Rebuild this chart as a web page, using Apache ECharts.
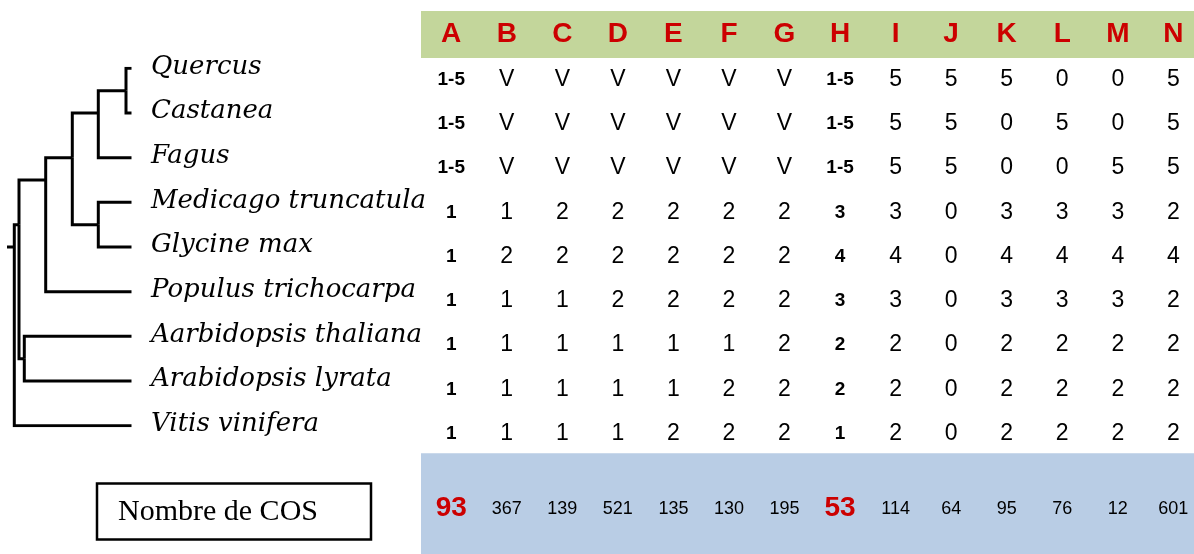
<!DOCTYPE html>
<html>
<head>
<meta charset="utf-8">
<script src="https://cdn.jsdelivr.net/npm/echarts@6/dist/echarts.min.js"></script>
<style>
  html, body { margin: 0; padding: 0; background: #fff; }
  #main { width: 1194px; height: 554px; }
</style>
</head>
<body>
<div id="main"></div>
<script>
// colonnes du tableau
var columns = ['A', 'B', 'C', 'D', 'E', 'F', 'G', 'H', 'I', 'J', 'K', 'L', 'M', 'N'];
var boldColumns = ['A', 'H'];

// especes (feuilles de l'arbre, de haut en bas)
var species = ['Quercus', 'Castanea', 'Fagus', 'Medicago truncatula', 'Glycine max',
  'Populus trichocarpa', 'Aarbidopsis thaliana', 'Arabidopsis lyrata', 'Vitis vinifera'];

// valeurs par espece
var rowQuercus   = ['1-5', 'V', 'V', 'V', 'V', 'V', 'V', '1-5', '5', '5', '5', '0', '0', '5'];
var rowCastanea  = ['1-5', 'V', 'V', 'V', 'V', 'V', 'V', '1-5', '5', '5', '0', '5', '0', '5'];
var rowFagus     = ['1-5', 'V', 'V', 'V', 'V', 'V', 'V', '1-5', '5', '5', '0', '0', '5', '5'];
var rowMedicago  = ['1', '1', '2', '2', '2', '2', '2', '3', '3', '0', '3', '3', '3', '2'];
var rowGlycine   = ['1', '2', '2', '2', '2', '2', '2', '4', '4', '0', '4', '4', '4', '4'];
var rowPopulus   = ['1', '1', '1', '2', '2', '2', '2', '3', '3', '0', '3', '3', '3', '2'];
var rowThaliana  = ['1', '1', '1', '1', '1', '1', '2', '2', '2', '0', '2', '2', '2', '2'];
var rowLyrata    = ['1', '1', '1', '1', '1', '2', '2', '2', '2', '0', '2', '2', '2', '2'];
var rowVitis     = ['1', '1', '1', '1', '2', '2', '2', '1', '2', '0', '2', '2', '2', '2'];
var rows = [rowQuercus, rowCastanea, rowFagus, rowMedicago, rowGlycine,
  rowPopulus, rowThaliana, rowLyrata, rowVitis];

// nombre de COS par colonne
var cosCounts = [93, 367, 139, 521, 135, 130, 195, 53, 114, 64, 95, 76, 12, 601];

// arbre : profondeur des noeuds (d), enfants (c) = index d'espece ou sous-arbre
var rootDepth = 7;
var tipDepth = 131.5;
var tree = {d: 14.3, c: [
  {d: 19, c: [
    {d: 45.7, c: [
      {d: 72.3, c: [
        {d: 98.3, c: [{d: 126, c: [0, 1]}, 2]},
        {d: 98.3, c: [3, 4]}
      ]},
      5
    ]},
    {d: 24.3, c: [6, 7]}
  ]},
  8
]};

var chart = echarts.init(document.getElementById('main'));

// construit les segments de l'arbre
var branches = [];
function leavesOf(n) {
  if (typeof n === 'number') return [n];
  var out = [];
  n.c.forEach(function (k) { out = out.concat(leavesOf(k)); });
  return out;
}
function nodeY(n) {
  var l = leavesOf(n);
  return l.reduce(function (a, b) { return a + b; }, 0) / l.length;
}
function walk(n) {
  var y = nodeY(n);
  n.c.forEach(function (k) {
    var ky = nodeY(k);
    var kx = typeof k === 'number' ? tipDepth : k.d;
    branches.push({coords: [[n.d, y], [n.d, ky], [kx, ky]]});
    if (typeof k !== 'number') walk(k);
  });
}
walk(tree);
branches.push({coords: [[rootDepth, nodeY(tree)], [tree.d, nodeY(tree)]]});

var tipData = species.map(function (s, i) { return {value: [tipDepth, i], name: s}; });

var headerData = columns.map(function (c, i) { return [i, 0, c]; });

var cellData = [];
rows.forEach(function (r, ri) {
  r.forEach(function (v, ci) {
    var bold = boldColumns.indexOf(columns[ci]) >= 0;
    cellData.push({
      value: [ci, ri, v],
      label: bold ? {fontWeight: 'bold', fontSize: 19} : {fontWeight: 'normal', fontSize: 23}
    });
  });
});

var cosData = cosCounts.map(function (v, ci) {
  var bold = boldColumns.indexOf(columns[ci]) >= 0;
  return {
    value: [ci, 0, v],
    label: bold ? {fontWeight: 'bold', fontSize: 28, color: '#cc0000'} : {fontSize: 18, color: '#000'}
  };
});

var colMin = -0.544, colMax = 13.372;
var textLabel = function (p) { return p.value[2]; };
var hidden = {color: 'rgba(0,0,0,0)', opacity: 1};
var narrow = '"Liberation Sans Narrow", "Liberation Sans", Arial, sans-serif';

var option = {
  backgroundColor: '#fff',
  animation: false,
  grid: [
    {left: 0, top: 68.3, width: tipDepth, height: 357.4},
    {left: 421, right: 0, top: 11, height: 47, show: true, backgroundColor: '#c3d69b', borderWidth: 0},
    {left: 421, right: 0, top: 57.6, height: 398},
    {left: 421, right: 0, top: 453.3, bottom: 0, show: true, backgroundColor: '#b9cde5', borderWidth: 0}
  ],
  xAxis: [
    {gridIndex: 0, type: 'value', min: 0, max: tipDepth, show: false},
    {gridIndex: 1, type: 'value', min: colMin, max: colMax, show: false},
    {gridIndex: 2, type: 'value', min: colMin, max: colMax, show: false},
    {gridIndex: 3, type: 'value', min: colMin, max: colMax, show: false}
  ],
  yAxis: [
    {gridIndex: 0, type: 'value', min: 0, max: species.length - 1, inverse: true, show: false},
    {gridIndex: 1, type: 'value', min: -1, max: 1, show: false},
    {gridIndex: 2, type: 'category', data: species, inverse: true, show: false},
    {gridIndex: 3, type: 'value', min: -1, max: 1, show: false}
  ],
  series: [
    {
      type: 'lines',
      coordinateSystem: 'cartesian2d',
      xAxisIndex: 0, yAxisIndex: 0,
      polyline: true,
      silent: true,
      lineStyle: {color: '#000', width: 3, opacity: 1, cap: 'butt', join: 'miter'},
      data: branches
    },
    {
      type: 'scatter',
      xAxisIndex: 0, yAxisIndex: 0,
      symbolSize: 1,
      silent: true,
      itemStyle: hidden,
      label: {
        show: true, position: 'right', distance: 19, offset: [0, -1.5],
        formatter: '{b}', color: '#000', opacity: 1,
        fontFamily: 'DejaVu Serif', fontStyle: 'italic', fontSize: 26
      },
      data: tipData
    },
    {
      type: 'scatter',
      xAxisIndex: 1, yAxisIndex: 1,
      symbolSize: 1,
      silent: true,
      itemStyle: hidden,
      label: {
        show: true, position: 'inside', formatter: textLabel, opacity: 1,
        color: '#cc0000', fontFamily: narrow, fontWeight: 'bold', fontSize: 28
      },
      data: headerData
    },
    {
      type: 'scatter',
      xAxisIndex: 2, yAxisIndex: 2,
      symbolSize: 1,
      silent: true,
      itemStyle: hidden,
      label: {
        show: true, position: 'inside', formatter: textLabel, opacity: 1,
        color: '#000', fontFamily: narrow
      },
      data: cellData
    },
    {
      type: 'scatter',
      xAxisIndex: 3, yAxisIndex: 3,
      symbolSize: 1,
      silent: true,
      itemStyle: hidden,
      label: {
        show: true, position: 'inside', formatter: textLabel, offset: [0, 5], opacity: 1,
        fontFamily: narrow
      },
      data: cosData
    }
  ],
  graphic: [
    {
      type: 'rect',
      shape: {x: 97, y: 483.5, width: 274, height: 56},
      style: {fill: '#fff', stroke: '#000', lineWidth: 2.5},
      silent: true
    },
    {
      type: 'text',
      x: 118, y: 512,
      style: {
        text: 'Nombre de COS', fill: '#000',
        font: '30px "Liberation Serif"',
        verticalAlign: 'middle', align: 'left'
      },
      silent: true
    }
  ]
};

chart.setOption(option);
</script>
</body>
</html>
